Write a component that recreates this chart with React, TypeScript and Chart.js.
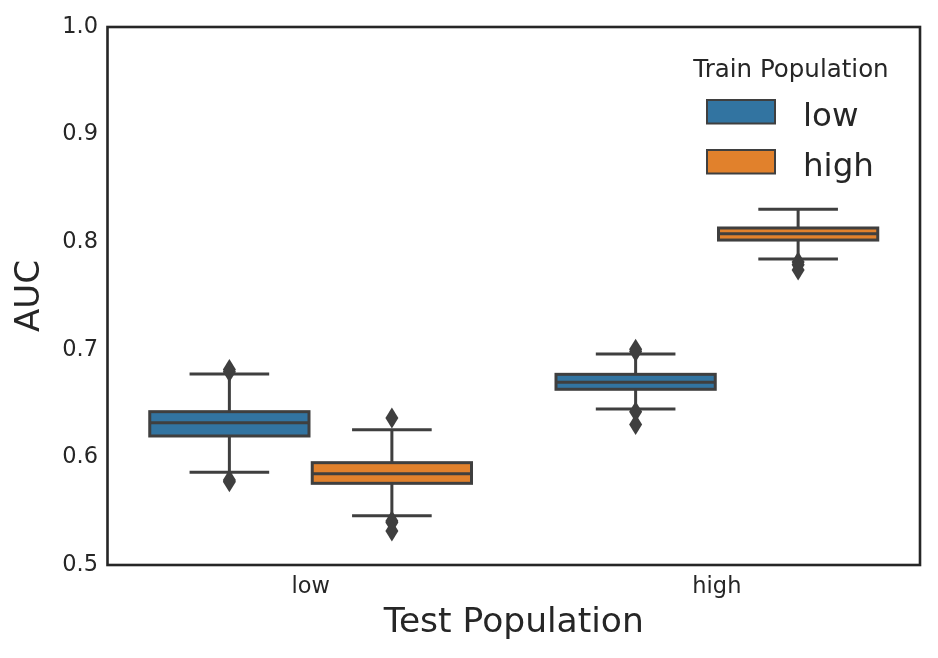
import React, { useEffect, useRef } from "react";
import { Chart, registerables } from "chart.js";

Chart.register(...registerables);

// ---- data ----
const testPopulations = ["low", "high"];
const trainPopulations = ["low", "high"];
const yTicks = [0.5, 0.6, 0.7, 0.8, 0.9, 1.0];

// train = low
const lowQ1 = [0.6199, 0.6633];
const lowMedian = [0.6322, 0.6698];
const lowQ3 = [0.6425, 0.6772];
const lowWhiskerLo = [0.5861, 0.645];
const lowWhiskerHi = [0.6775, 0.6961];
const lowOutliers = [
  [0.6817, 0.6795, 0.5774, 0.579],
  [0.7005, 0.6985, 0.6425, 0.6305],
];

// train = high
const highQ1 = [0.5759, 0.802];
const highMedian = [0.5849, 0.8078];
const highQ3 = [0.5951, 0.8132];
const highWhiskerLo = [0.5458, 0.7844];
const highWhiskerHi = [0.6257, 0.8306];
const highOutliers = [
  [0.6366, 0.5409, 0.5395, 0.5316],
  [0.7816, 0.779, 0.7742],
];

const colors = ["#3274a1", "#e1812c"];
const GRAY = "#3f3f3f";
const TEXT = "#262626";
const FONT = "'DejaVu Sans', 'Liberation Sans', sans-serif";

const stats = [
  { q1: lowQ1, med: lowMedian, q3: lowQ3, lo: lowWhiskerLo, hi: lowWhiskerHi, out: lowOutliers },
  { q1: highQ1, med: highMedian, q3: highQ3, lo: highWhiskerLo, hi: highWhiskerHi, out: highOutliers },
];

const boxPlugin = {
  id: "boxParts",
  afterDatasetsDraw(chart: any) {
    const ctx = chart.ctx;
    const ys = chart.scales.y;
    ctx.save();
    stats.forEach((s, d) => {
      const meta = chart.getDatasetMeta(d);
      meta.data.forEach((el: any, i: number) => {
        const x = el.x;
        const w = el.width;
        const yq1 = ys.getPixelForValue(s.q1[i]);
        const yq3 = ys.getPixelForValue(s.q3[i]);
        const ymed = ys.getPixelForValue(s.med[i]);
        const ylo = ys.getPixelForValue(s.lo[i]);
        const yhi = ys.getPixelForValue(s.hi[i]);
        ctx.strokeStyle = GRAY;
        ctx.lineWidth = 3;
        ctx.lineCap = "butt";
        // box outline
        ctx.strokeRect(x - w / 2, yq3, w, yq1 - yq3);
        // whiskers
        ctx.beginPath();
        ctx.moveTo(x, yq3);
        ctx.lineTo(x, yhi);
        ctx.moveTo(x, yq1);
        ctx.lineTo(x, ylo);
        // caps
        ctx.moveTo(x - w / 4, yhi);
        ctx.lineTo(x + w / 4, yhi);
        ctx.moveTo(x - w / 4, ylo);
        ctx.lineTo(x + w / 4, ylo);
        // median
        ctx.moveTo(x - w / 2, ymed);
        ctx.lineTo(x + w / 2, ymed);
        ctx.stroke();
        // fliers
        ctx.fillStyle = GRAY;
        s.out[i].forEach((v: number) => {
          const py = ys.getPixelForValue(v);
          ctx.beginPath();
          ctx.moveTo(x, py - 10.5);
          ctx.lineTo(x + 6.5, py);
          ctx.lineTo(x, py + 10.5);
          ctx.lineTo(x - 6.5, py);
          ctx.closePath();
          ctx.fill();
        });
      });
    });
    ctx.restore();
  },
  afterDraw(chart: any) {
    const ctx = chart.ctx;
    const a = chart.chartArea;
    ctx.save();
    // frame
    ctx.strokeStyle = TEXT;
    ctx.lineWidth = 2.6;
    ctx.strokeRect(a.left, a.top, a.right - a.left, a.bottom - a.top);
    // legend
    ctx.fillStyle = TEXT;
    ctx.textBaseline = "alphabetic";
    ctx.textAlign = "center";
    ctx.font = `24.5px ${FONT}`;
    ctx.fillText("Train Population", 791, 76.5);
    trainPopulations.forEach((label, k) => {
      const top = 100 + k * 50;
      ctx.fillStyle = colors[k];
      ctx.fillRect(707, top, 68, 23.5);
      ctx.strokeStyle = GRAY;
      ctx.lineWidth = 2;
      ctx.strokeRect(707, top, 68, 23.5);
      ctx.fillStyle = TEXT;
      ctx.textAlign = "left";
      ctx.font = `32.5px ${FONT}`;
      ctx.fillText(label, 803, top + 25.5);
    });
    ctx.restore();
  },
};

export default function App() {
  const ref = useRef<HTMLCanvasElement>(null);
  useEffect(() => {
    if (!ref.current) return;
    const chart = new Chart(ref.current, {
      type: "bar",
      data: {
        labels: testPopulations,
        datasets: trainPopulations.map((tp, d) => ({
          label: tp,
          data: testPopulations.map((_, i) => [stats[d].q1[i], stats[d].q3[i]]),
          backgroundColor: colors[d],
          borderWidth: 0,
          barPercentage: 0.98,
          categoryPercentage: 0.8,
        })),
      },
      options: {
        animation: false,
        responsive: true,
        maintainAspectRatio: false,
        layout: { padding: { top: 27, right: 18, left: 0, bottom: 0 } },
        plugins: { legend: { display: false }, tooltip: { enabled: false } },
        scales: {
          x: {
            grid: { display: false, drawTicks: false },
            border: { display: false },
            ticks: { color: TEXT, font: { family: FONT, size: 22.5 }, padding: 9 },
            title: {
              display: true,
              text: "Test Population",
              color: TEXT,
              font: { family: FONT, size: 34.5 },
              padding: { top: 0, bottom: 14 },
            },
            afterFit: (s: any) => {
              s.height = 93;
            },
          },
          y: {
            min: 0.5,
            max: 1.0,
            grid: { display: false, drawTicks: false },
            border: { display: false },
            afterBuildTicks: (s: any) => {
              s.ticks = yTicks.map((v) => ({ value: v }));
            },
            ticks: {
              color: TEXT,
              font: { family: FONT, size: 22.5 },
              padding: 9.5,
              callback: (v: any) => Number(v).toFixed(1),
            },
            title: {
              display: true,
              text: "AUC",
              color: TEXT,
              font: { family: FONT, size: 34 },
              padding: { top: 10, bottom: 0 },
            },
            afterFit: (s: any) => {
              s.width = 107.5;
            },
          },
        },
      },
      plugins: [boxPlugin],
    } as any);
    return () => chart.destroy();
  }, []);
  return (
    <div style={{ position: "absolute", left: 0, top: 0, width: 938, height: 658, background: "#fff" }}>
      <canvas ref={ref} />
    </div>
  );
}
